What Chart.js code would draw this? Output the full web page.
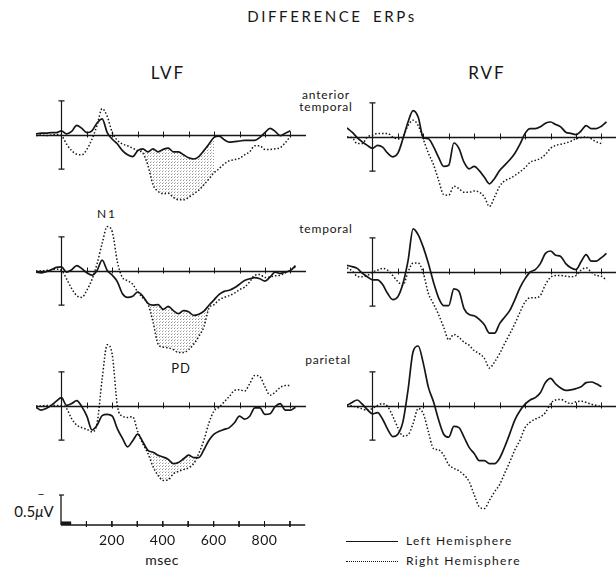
<!DOCTYPE html>
<html>
<head>
<meta charset="utf-8">
<title>Difference ERPs</title>
<script src="https://cdn.jsdelivr.net/npm/chart.js@4.4.1/dist/chart.umd.min.js"></script>
<style>
  html, body { margin: 0; padding: 0; background: #fff; }
  body { width: 616px; height: 569px; position: relative; overflow: hidden;
         font-family: Lato, "Open Sans", sans-serif; color: #161616; }
  .box { position: absolute; line-height: 0; }
  .txt { position: absolute; transform: translate(-50%, -50%); white-space: nowrap; line-height: 1; }
  .leg { position: absolute; transform: translateY(-50%); white-space: nowrap; line-height: 1;
         font-size: 12px; letter-spacing: 1.3px; }
  .swatch { position: absolute; width: 52px; height: 0; }
</style>
</head>
<body>
<div class="txt" style="left:332px;top:16px;font-size:15px;letter-spacing:2.6px;word-spacing:4px">DIFFERENCE ERPs</div>
<div class="txt" style="left:168px;top:72px;font-size:17px;letter-spacing:2px">LVF</div>
<div class="txt" style="left:487px;top:72px;font-size:17px;letter-spacing:2px">RVF</div>
<div class="txt" style="left:326px;top:95px;font-size:12px;letter-spacing:0.8px">anterior</div>
<div class="txt" style="left:326px;top:107px;font-size:12px;letter-spacing:0.8px">temporal</div>
<div class="txt" style="left:326px;top:229px;font-size:12px;letter-spacing:0.8px">temporal</div>
<div class="txt" style="left:328px;top:360px;font-size:12px;letter-spacing:0.8px">parietal</div>
<div class="txt" style="left:107px;top:214px;font-size:12px;letter-spacing:2px">N1</div>
<div class="txt" style="left:181px;top:368px;font-size:13px;letter-spacing:1px">PD</div>
<div class="txt" style="left:41px;top:494px;font-size:12px">−</div>
<div class="txt" style="left:34px;top:511px;font-size:15px">0.5<i>μ</i>V</div>
<div class="txt" style="left:162px;top:560px;font-size:14px;letter-spacing:0.5px">msec</div>

<div class="swatch" style="left:346px;top:541px;border-top:1.5px solid #161616"></div>
<div class="leg" style="left:406px;top:541px">Left Hemisphere</div>
<div class="swatch" style="left:346px;top:561px;border-top:1.5px dotted #161616"></div>
<div class="leg" style="left:406px;top:561px">Right Hemisphere</div>

<script>
// time base (ms) shared by every trace
const TIME_MS = [-100, -80, -60, -40, -20, 0, 20, 40, 60, 80,
  100, 120, 140, 160, 180, 200, 220, 240, 260, 280,
  300, 320, 340, 360, 380, 400, 420, 440, 460, 480,
  500, 520, 540, 560, 580, 600, 620, 640, 660, 680,
  700, 720, 740, 760, 780, 800, 820, 840, 860, 880,
  900, 920];
const TICK_MS = [100, 200, 300, 400, 500, 600, 700, 800, 900];
const LABEL_MS = [200, 400, 600, 800];
const AXIS_END_MS = 960;

// values in microvolts, negative = up
// LVF, anterior temporal
const lvfAntLeftHem = [-0.02, -0.03, -0.03, -0.04, -0.04, -0.07, -0.02, -0.06, -0.16, -0.11,
  -0.04, -0.07, -0.20, -0.27, -0.04, 0.07, 0.15, 0.26, 0.33, 0.36,
  0.26, 0.23, 0.28, 0.23, 0.28, 0.24, 0.22, 0.28, 0.28, 0.33,
  0.38, 0.40, 0.36, 0.26, 0.15, 0.04, 0.02, 0.08, 0.12, 0.11,
  0.10, 0.09, 0.09, 0.09, 0.04, -0.04, -0.11, -0.06, 0.01, -0.03,
  -0.07, null];
const lvfAntRightHem = [0.01, 0, 0.01, 0, -0.01, 0.01, 0.15, 0.26, 0.32, 0.33,
  0.24, 0.07, -0.16, -0.44, -0.31, -0.04, 0.09, 0.15, 0.18, 0.22,
  0.26, 0.30, 0.51, 0.83, 0.94, 0.98, 0.97, 1.04, 1.08, 1.08,
  1.04, 0.98, 0.92, 0.83, 0.73, 0.63, 0.56, 0.48, 0.43, 0.41,
  0.39, 0.33, 0.28, 0.18, 0.18, 0.24, 0.24, 0.23, 0.21, 0.13,
  0.02, null];
const lvfAntShade = [300, 600];

// LVF, temporal
const lvfTempLeftHem = [0.02, 0.03, 0.01, -0.02, -0.06, -0.07, 0.02, -0.02, -0.09, -0.04,
  0.03, 0.07, -0.01, -0.18, -0.01, 0.07, 0.18, 0.38, 0.44, 0.42,
  0.35, 0.42, 0.54, 0.57, 0.56, 0.64, 0.59, 0.66, 0.71, 0.66,
  0.68, 0.74, 0.72, 0.67, 0.57, 0.48, 0.39, 0.34, 0.32, 0.28,
  0.22, 0.16, 0.13, 0.11, 0.13, 0.17, 0.10, 0.02, 0.04, 0.02,
  -0.01, -0.09];
const lvfTempRightHem = [0, 0, -0.01, -0.02, -0.03, -0.01, 0.13, 0.29, 0.41, 0.44,
  0.32, 0.14, -0.12, -0.46, -0.74, -0.65, -0.15, 0.11, 0.16, 0.22,
  0.35, 0.45, 0.55, 0.85, 1.22, 1.27, 1.28, 1.31, 1.36, 1.36,
  1.31, 1.22, 1.09, 0.93, 0.62, 0.56, 0.48, 0.44, 0.41, 0.37,
  0.31, 0.27, 0.18, 0.07, 0.06, 0.11, 0.10, 0.08, 0.07, 0.03,
  -0.01, -0.07];
const lvfTempShade = [320, 580];

// LVF, parietal
const lvfParLeftHem = [0.02, 0.07, 0.04, -0.01, -0.08, -0.14, -0.01, -0.04, -0.09, 0.01,
  0.17, 0.40, 0.32, 0.16, 0.14, 0.17, 0.38, 0.54, 0.68, 0.58,
  0.47, 0.60, 0.74, 0.77, 0.82, 0.85, 0.89, 0.96, 0.94, 0.88,
  0.82, 0.86, 0.86, 0.73, 0.57, 0.47, 0.42, 0.39, 0.36, 0.28,
  0.17, 0.22, 0.17, 0.03, 0.03, 0.14, 0.13, 0.01, -0.04, 0.07,
  0.07, 0.02];
const lvfParRightHem = [0, 0, -0.01, -0.01, -0.01, -0.01, 0.04, 0.21, 0.32, 0.36,
  0.39, 0.43, 0.29, -0.45, -1.02, -0.85, 0.00, 0.17, 0.19, 0.18,
  0.43, 0.63, 0.79, 1.01, 1.16, 1.24, 1.23, 1.13, 1.09, 1.06,
  1.03, 0.96, 0.79, 0.57, 0.28, 0.08, 0.02, -0.07, -0.16, -0.26,
  -0.27, -0.25, -0.37, -0.51, -0.49, -0.32, -0.18, -0.23, -0.31, -0.34,
  -0.34, null];
const lvfParShade = [340, 560];

// RVF, anterior temporal
const rvfAntLeftHem = [-0.15, -0.08, 0.01, 0.08, 0.14, 0.19, 0.14, 0.17, 0.27, 0.33,
  0.27, 0.03, -0.25, -0.44, -0.33, 0.01, 0.03, 0.16, 0.34, 0.49,
  0.47, 0.10, 0.19, 0.42, 0.53, 0.49, 0.56, 0.67, 0.78, 0.69,
  0.56, 0.47, 0.38, 0.27, 0.12, -0.06, -0.14, -0.14, -0.17, -0.23,
  -0.25, -0.21, -0.17, -0.08, -0.06, -0.04, -0.10, -0.19, -0.14, -0.14,
  -0.18, -0.25];
const rvfAntRightHem = [0, 0.01, 0.11, 0.11, 0, -0.03, -0.06, -0.06, -0.06, 0,
  0.03, -0.01, -0.19, -0.28, -0.19, 0.04, 0.27, 0.46, 0.72, 0.96,
  0.97, 0.82, 0.86, 0.92, 0.92, 0.90, 0.92, 1.00, 1.16, 1.00,
  0.82, 0.73, 0.69, 0.64, 0.58, 0.51, 0.42, 0.39, 0.36, 0.29,
  0.19, 0.14, 0.12, 0.10, 0.07, 0.03, 0.01, 0, 0.03, 0.08,
  0.11, null];

// RVF, temporal
const rvfTempLeftHem = [-0.11, -0.09, -0.06, 0.02, 0.08, 0.13, 0.13, 0.21, 0.36, 0.46,
  0.41, 0.19, -0.19, -0.72, -0.62, -0.41, -0.14, 0.17, 0.43, 0.56,
  0.56, 0.28, 0.32, 0.61, 0.71, 0.73, 0.79, 0.88, 1.02, 1.02,
  0.86, 0.75, 0.64, 0.46, 0.26, 0.11, 0, -0.04, -0.14, -0.31,
  -0.35, -0.28, -0.26, -0.14, -0.07, -0.04, -0.17, -0.29, -0.18, -0.18,
  -0.24, -0.31];
const rvfTempRightHem = [-0.07, -0.02, 0.07, 0.08, 0.06, 0, -0.03, -0.06, -0.03, 0.06,
  0.16, 0.22, 0, -0.15, -0.15, 0.02, 0.36, 0.53, 0.71, 0.92,
  1.13, 1.04, 1.09, 1.17, 1.22, 1.31, 1.36, 1.44, 1.60, 1.50,
  1.36, 1.19, 1.03, 0.86, 0.67, 0.50, 0.43, 0.43, 0.39, 0.21,
  0.09, 0.06, 0.06, 0.07, 0.08, 0.06, -0.03, -0.07, 0, 0.06,
  0.07, 0.14];

// RVF, parietal
const rvfParLeftHem = [-0.01, -0.06, -0.10, -0.03, 0.06, 0.13, 0.11, 0.22, 0.39, 0.51,
  0.47, 0.26, -0.27, -0.91, -1.00, -0.71, -0.31, -0.07, 0.23, 0.47,
  0.52, 0.34, 0.36, 0.52, 0.69, 0.79, 0.91, 0.91, 0.96, 0.96,
  0.87, 0.68, 0.46, 0.23, 0.08, -0.03, -0.10, -0.14, -0.22, -0.39,
  -0.46, -0.37, -0.30, -0.26, -0.27, -0.29, -0.32, -0.39, -0.40, -0.37,
  -0.32, null];
const rvfParRightHem = [-0.02, 0, 0.02, 0.05, 0.07, 0.04, -0.01, -0.04, 0.01, 0.17,
  0.36, 0.50, 0.48, 0.29, 0.04, 0.13, 0.43, 0.71, 0.73, 0.82,
  0.98, 1.04, 1.08, 1.15, 1.26, 1.48, 1.68, 1.71, 1.57, 1.43,
  1.31, 1.12, 0.93, 0.73, 0.57, 0.36, 0.27, 0.22, 0.18, 0.11,
  -0.04, -0.10, -0.11, -0.07, -0.04, -0.07, -0.08, -0.06, -0.03, -0.01,
  0.01, null];

// calibration
const CAL_UV = 0.57;    // half height of the bar at 0 ms in every panel
const SCALE_UV = 0.5;   // the 0.5 µV bar under the panels
const STIM_MS = 40;     // black stimulus mark on the time axis

// page geometry
const PX_PER_MS = 0.2544;
const PX_PER_UV = 60;
const Y_TOP_UV = -1.2, Y_BOTTOM_UV = 1.8;
const PANEL_W = 270;
const LEFT_COL = 36, RIGHT_COL = 347;
const AXIS_Y = 525;

const INK = '#161616';
Chart.defaults.font.family = 'Lato, "Open Sans", sans-serif';
Chart.defaults.color = INK;

// stippled grey for the shaded difference areas
function stipple() {
  const c = document.createElement('canvas');
  c.width = 3; c.height = 3;
  const g = c.getContext('2d');
  g.fillStyle = 'rgba(0,0,0,0.42)';
  g.fillRect(0, 0, 1, 1);
  g.fillStyle = 'rgba(0,0,0,0.22)';
  g.fillRect(1, 2, 1, 1);
  return g.createPattern(c, 'repeat');
}
const SHADE = stipple();

function points(vals) {
  return TIME_MS.map((t, i) => ({ x: t, y: vals[i] }));
}

// zero line with 100 ms ticks crossing it
function drawTimeAxis(chart, fromMs, toMs) {
  const { ctx, scales: { x, y } } = chart;
  const y0 = Math.round(y.getPixelForValue(0)) + 0.5;
  ctx.save();
  ctx.strokeStyle = INK;
  ctx.lineWidth = 1.4;
  ctx.beginPath();
  ctx.moveTo(x.getPixelForValue(fromMs), y0);
  ctx.lineTo(x.getPixelForValue(toMs), y0);
  ctx.stroke();
  ctx.lineWidth = 1;
  TICK_MS.forEach(t => {
    const px = Math.round(x.getPixelForValue(t)) + 0.5;
    ctx.beginPath();
    ctx.moveTo(px, y0 - 4);
    ctx.lineTo(px, y0 + 2);
    ctx.stroke();
  });
  ctx.restore();
}

// baseline, ticks and the calibration bar at stimulus onset
const panelAxes = {
  id: 'panelAxes',
  beforeDatasetsDraw(chart) {
    const { ctx, scales: { x, y } } = chart;
    drawTimeAxis(chart, x.min, x.max);
    const bx = Math.round(x.getPixelForValue(0)) + 0.5;
    const yt = y.getPixelForValue(-CAL_UV), yb = y.getPixelForValue(CAL_UV);
    ctx.save();
    ctx.strokeStyle = INK;
    ctx.lineWidth = 1.2;
    ctx.beginPath();
    ctx.moveTo(bx, yt); ctx.lineTo(bx, yb);
    ctx.moveTo(bx - 3, yt); ctx.lineTo(bx + 3, yt);
    ctx.moveTo(bx - 3, yb); ctx.lineTo(bx + 3, yb);
    ctx.stroke();
    ctx.restore();
  }
};

function addCanvas(left, top, w, h) {
  const wrap = document.createElement('div');
  wrap.className = 'box';
  wrap.style.left = left + 'px';
  wrap.style.top = top + 'px';
  const canvas = document.createElement('canvas');
  canvas.width = w; canvas.height = h;
  canvas.style.width = w + 'px'; canvas.style.height = h + 'px';
  canvas.style.display = 'block';
  wrap.appendChild(canvas);
  document.body.appendChild(wrap);
  return { wrap, canvas };
}

const baseOptions = (xMin, xMax, yMin, yMax) => ({
  responsive: false, animation: false, events: [],
  layout: { padding: 0 },
  plugins: { legend: { display: false }, tooltip: { enabled: false } },
  scales: {
    x: { type: 'linear', display: false, min: xMin, max: xMax },
    y: { display: false, reverse: true, min: yMin, max: yMax }
  }
});

function panel(left, base, leftHem, rightHem, shade) {
  const h = Math.round((Y_BOTTOM_UV - Y_TOP_UV) * PX_PER_UV);
  const { canvas } = addCanvas(left, Math.round(base + Y_TOP_UV * PX_PER_UV), PANEL_W, h);
  const datasets = [
    { label: 'Left Hemisphere', data: points(leftHem), borderColor: INK, borderWidth: 1.7,
      pointRadius: 0, cubicInterpolationMode: 'monotone', fill: false, order: 0 },
    { label: 'Right Hemisphere', data: points(rightHem), borderColor: INK, borderWidth: 1.5,
      borderDash: [1.5, 2], pointRadius: 0, cubicInterpolationMode: 'monotone', fill: false, order: 1 }
  ];
  if (shade) {
    datasets.push({
      label: 'shade',
      data: points(rightHem).filter(p => p.x >= shade[0] && p.x <= shade[1]),
      borderWidth: 0, pointRadius: 0, cubicInterpolationMode: 'monotone',
      fill: { target: 0, above: 'rgba(0,0,0,0)', below: SHADE }, order: 2
    });
  }
  new Chart(canvas, {
    type: 'line',
    data: { datasets },
    options: baseOptions(-100, -100 + PANEL_W / PX_PER_MS, Y_TOP_UV, Y_BOTTOM_UV),
    plugins: [panelAxes]
  });
}

panel(LEFT_COL, 135, lvfAntLeftHem, lvfAntRightHem, lvfAntShade);
panel(LEFT_COL, 271, lvfTempLeftHem, lvfTempRightHem, lvfTempShade);
panel(LEFT_COL, 406, lvfParLeftHem, lvfParRightHem, lvfParShade);
panel(RIGHT_COL, 137, rvfAntLeftHem, rvfAntRightHem);
panel(RIGHT_COL, 272, rvfTempLeftHem, rvfTempRightHem);
panel(RIGHT_COL, 406, rvfParLeftHem, rvfParRightHem);

// calibration: 0.5 µV bar and the msec axis, drawn as plain line datasets
const TICK_UP_UV = 4 / PX_PER_UV, TICK_DOWN_UV = 2 / PX_PER_UV;
const tickMarks = TICK_MS.flatMap(t => [{ x: t, y: -TICK_UP_UV }, { x: t, y: TICK_DOWN_UV }, { x: t, y: null }]);
const barSerif = [{ x: -8, y: -SCALE_UV }, { x: 12, y: -SCALE_UV }];

const SCALE_TOP_UV = -0.7, SCALE_BOTTOM_UV = 0.3;
const scaleLeft = Math.round(LEFT_COL + 100 * PX_PER_MS);
const scaleH = Math.round((SCALE_BOTTOM_UV - SCALE_TOP_UV) * PX_PER_UV);
const sc = addCanvas(scaleLeft - 4, Math.round(AXIS_Y + SCALE_TOP_UV * PX_PER_UV), PANEL_W + 4, scaleH);
const lineStyle = (w) => ({ borderColor: INK, borderWidth: w, pointRadius: 0, spanGaps: false, fill: false });
const scaleChart = new Chart(sc.canvas, {
  type: 'line',
  data: {
    datasets: [
      { data: [{ x: 0, y: 0 }, { x: AXIS_END_MS, y: 0 }], ...lineStyle(1.4) },
      { data: tickMarks, ...lineStyle(1) },
      { data: [{ x: 0, y: 0 }, { x: 0, y: -SCALE_UV }], ...lineStyle(1.3) },
      { data: barSerif, ...lineStyle(1.2) },
      { data: [{ x: 0, y: -0.03 }, { x: STIM_MS, y: -0.03 }], ...lineStyle(3.5) }
    ]
  },
  options: baseOptions(-4 / PX_PER_MS, PANEL_W / PX_PER_MS, SCALE_TOP_UV, SCALE_BOTTOM_UV)
});

// tick labels placed from the chart's own x scale
LABEL_MS.forEach(v => {
  const d = document.createElement('div');
  d.className = 'txt';
  d.style.left = (scaleLeft - 4 + scaleChart.scales.x.getPixelForValue(v)) + 'px';
  d.style.top = '540px';
  d.style.fontSize = '14px';
  d.style.letterSpacing = '0.5px';
  d.textContent = String(v);
  document.body.appendChild(d);
});
</script>
</body>
</html>
